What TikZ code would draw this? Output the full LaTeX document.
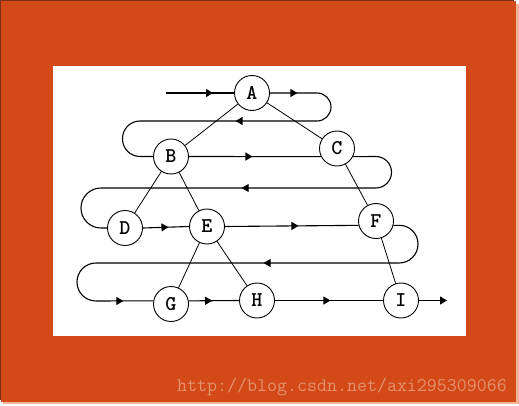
\documentclass[tikz,border=0pt]{standalone}
\usetikzlibrary{arrows.meta,decorations.markings}
\definecolor{frameorange}{RGB}{211,73,24}
\definecolor{framedark}{RGB}{120,48,20}
\definecolor{frameshade}{RGB}{242,180,150}
\definecolor{markgray}{RGB}{228,146,108}

\begin{document}
\begin{tikzpicture}[x=1pt,y=-1pt,
		>={Triangle[length=7pt,width=8pt]},
		vertex/.style={draw,circle,line width=0.9pt,minimum size=35pt,inner sep=0pt,font=\ttfamily\bfseries\fontsize{21}{21}\selectfont},
		branch/.style={line width=0.8pt},
		walk/.style={line width=1.1pt},
		arrowat/.style={postaction={decorate,decoration={markings,mark=at position #1 with {\arrow{>}}}}}]
		\useasboundingbox (0,0) rectangle (519,406);
		% frame
		\fill[white] (0,0) rectangle (519,406);
		\fill[frameshade] (3,4) rectangle (518.5,404);
		\fill[framedark] (0,0) rectangle (514,400);
		\fill[frameorange] (1.3,1.3) rectangle (515.5,401.5);
		\fill[white] (53,66) rectangle (466,336);
		
		\node[vertex] (A) at (252,93) {A};
		\node[vertex] (B) at (171,156.5) {B};
		\node[vertex] (C) at (337,148.5) {C};
		\node[vertex] (D) at (125,228) {D};
		\node[vertex] (E) at (207,226.5) {E};
		\node[vertex] (F) at (376,221) {F};
		\node[vertex] (G) at (171,304) {G};
		\node[vertex] (H) at (257,300.5) {H};
		\node[vertex] (I) at (401,300.5) {I};
		
		\draw[branch] (A) -- (B) (A) -- (C) (B) -- (D) (B) -- (E) (C) -- (F) (E) -- (G) (E) -- (H) (F) -- (I);
		
		% level order walk
		\coordinate (start) at (166,93);
		\coordinate (finish) at (447,300.5);
		\draw[walk,arrowat=47pt] (start) -- (A.west);
		\draw[walk,arrowat=27.5pt,arrowat=172.5pt] (A.east) [rounded corners=14pt] -- (331,93) -- (331,121) -- (250,121) [rounded corners=17.5pt] -- (122.5,121) -- (122.5,156.5) -- (B.west);
		\draw[walk,arrowat=63.5pt] (B.east) -- (C.207);
		\draw[walk,arrowat=206.4pt] (C.333) [rounded corners=15.7pt] -- (391.5,156.4) -- (391.5,188) -- (250,188) [rounded corners=19.9pt] -- (81,188) -- (81,228) -- (D.west);
		\draw[walk,arrowat=25.5pt] (D.east) -- (E.west);
		\draw[walk,arrowat=73.5pt] (E.east) -- (F.194);
		\draw[walk,arrowat=200.6pt,arrowat=455.3pt] (F.346) [rounded corners=18.8pt] -- (418,225.2) -- (418,263) -- (250,263) [rounded corners=18.9pt] -- (77,263) -- (77,301) -- (G.170);
		\draw[walk,arrowat=23.5pt] (G.10) -- (H.west);
		\draw[walk,arrowat=55.5pt] (H.east) -- (I.west);
		\draw[walk,->] (I.east) -- (finish);
		
		\node[anchor=base west,text=markgray,font=\ttfamily\fontsize{19.4}{19.4}\selectfont,inner sep=0pt] (watermark) at (177,391.5) {http://blog.csdn.net/axi295309066};
	\end{tikzpicture}
\end{document}
